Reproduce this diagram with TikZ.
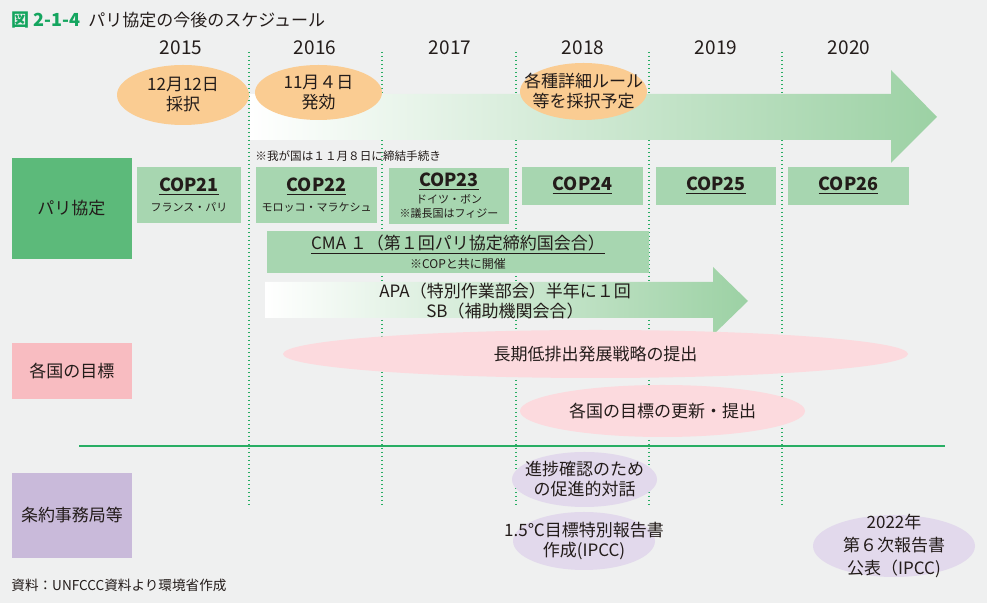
\documentclass[tikz,border=0pt]{standalone}
\usepackage{fontspec}
\setmainfont{Noto Sans CJK JP}
\usetikzlibrary{positioning,shapes.geometric}

\definecolor{bg}{RGB}{239,240,240}
\definecolor{ink}{RGB}{35,28,26}
\definecolor{figgreen}{RGB}{20,165,95}
\definecolor{rowgreen}{RGB}{92,186,122}
\definecolor{copgreen}{RGB}{167,214,176}
\definecolor{arrowgreen}{RGB}{156,209,164}
\definecolor{datebg}{RGB}{250,204,146}
\definecolor{rowpink}{RGB}{248,188,193}
\definecolor{pinkbg}{RGB}{252,218,222}
\definecolor{rowlilac}{RGB}{201,186,218}
\definecolor{lilacbg}{RGB}{226,217,236}
\definecolor{rulegreen}{RGB}{40,174,100}

\newcommand\copt[1]{{\fontsize{9}{11}\selectfont\bfseries\underline{#1}}}

\begin{document}
\begin{tikzpicture}[
	x = 0.5pt, y = -0.5pt, % one unit = one pixel of the figure, y downwards
	every node/.style = {text=ink, inner sep=0pt},
	F/.style = {font=\fontsize{8.5}{10}\selectfont, align=center},   % body text
	S/.style = {font=\fontsize{5.8}{7}\selectfont},                 % small notes
	Y/.style = {font=\fontsize{9.5}{11}\selectfont},                % years
	L/.style = {rectangle, minimum width=60pt, F},                  % row labels
	C/.style = {rectangle, fill=copgreen, minimum height=19pt, align=center,
		font=\fontsize{5.5}{7}\selectfont},                         % COP boxes
	E/.style = {ellipse, inner sep=0pt},                            % bare ellipses
	yearline/.style = {rulegreen, line width=0.6pt, dash pattern=on 0.6pt off 1.4pt},
	]

	% Canvas
	\fill[bg] (0,0) rectangle (987,603);
	\useasboundingbox (0,0) rectangle (987,603);

	% Heading
	\node[anchor=west, font=\fontsize{9}{11}\selectfont\bfseries, text=figgreen] (fig) at (11,20) {図 2-1-4};
	\node[anchor=west, font=\fontsize{8.5}{11}\selectfont] (title) at (88,20) {パリ協定の今後のスケジュール};

	% Years and the dotted borders between them
	\node[Y] (y15) at (181,48) {2015};
	\node[Y] (y16) at (315,48) {2016};
	\node[Y] (y17) at (450,48) {2017};
	\node[Y] (y18) at (583,48) {2018};
	\node[Y] (y19) at (716,48) {2019};
	\node[Y] (y20) at (849,48) {2020};
	\draw[yearline] (249,52) -- (249,505);
	\draw[yearline] (382,52) -- (382,505);
	\draw[yearline] (516,52) -- (516,505);
	\draw[yearline] (649,52) -- (649,505);
	\draw[yearline] (782,52) -- (782,505);

	% Long arrow of the agreement
	\path[left color=white, right color=arrowgreen]
		(250,94) -- (891,94) -- (891,70) -- (937,117) -- (891,163) -- (891,140) -- (250,140) -- cycle;

	% Dates
	\node[E, fill=datebg, minimum width=66pt, minimum height=30pt] (adopt) at (183,95) {};
	\node[F] (adoptT) at (adopt) {12月12日\\採択};
	\node[E, fill=datebg, minimum width=63.5pt, minimum height=27.5pt] (effect) at (318.5,92.5) {};
	\node[F] (effectT) at (effect) {11月４日\\発効};
	\node[E, fill=datebg, minimum width=63.5pt, minimum height=28.5pt] (rules) at (583.5,91.5) {};
	\node[F] (rulesT) at (rules) {各種詳細ルール\\等を採択予定};

	% Paris Agreement row
	\node[L, fill=rowgreen, minimum height=50.5pt] (pari) at (71.5,208.5) {パリ協定};
	\node[S, anchor=west] (note) at (255,156) {※我が国は１１月８日に締結手続き};
	\node[C, minimum width=52pt, minimum height=28pt] (cop21) at (189,195) {\copt{COP21}\\[3pt]フランス・パリ};
	\node[C, minimum width=60.5pt, minimum height=28pt] (cop22) at (316.5,195) {\copt{COP22}\\[3pt]モロッコ・マラケシュ};
	\node[C, minimum width=60pt, minimum height=28pt] (cop23) at (449,196) {\copt{COP23}\\[1.5pt]ドイツ・ボン\\※議長国はフィジー};
	\node[C, minimum width=60.5pt] (cop24) at (582.5,186) {\copt{COP24}};
	\node[C, minimum width=60pt] (cop25) at (716,186) {\copt{COP25}};
	\node[C, minimum width=60.5pt] (cop26) at (848.5,186) {\copt{COP26}};
	\node[C, minimum width=191pt, minimum height=21pt] (cma) at (458,252)
		{{\fontsize{8.5}{10}\selectfont\underline{CMA １（第１回パリ協定締約国会合）}}\\[0.5pt]{\fontsize{6}{7}\selectfont ※COPと共に開催}};
	\path[left color=white, right color=arrowgreen]
		(265,282) -- (713,282) -- (713,267) -- (748,301) -- (713,335) -- (713,318) -- (265,318) -- cycle;
	\node[F] (apa) at (505,301) {APA（特別作業部会）半年に１回\\SB（補助機関会合）};

	% National targets row
	\node[L, fill=rowpink, minimum height=28pt] (goal) at (72,371) {各国の目標};
	\node[E, fill=pinkbg, minimum width=312.5pt, minimum height=24pt] (lts) at (595.5,354) {};
	\node[F] (ltsT) at (lts) {長期低排出発展戦略の提出};
	\node[E, fill=pinkbg, minimum width=142.5pt, minimum height=26pt] (ndc) at (662.5,411) {};
	\node[F] (ndcT) at (ndc) {各国の目標の更新・提出};

	% Separator
	\draw[rulegreen, line width=1pt] (79,446) -- (945,446);

	% Secretariat row
	\node[L, fill=rowlilac, minimum height=42.5pt] (sec) at (72,515.5) {条約事務局等};
	\node[E, fill=lilacbg, minimum width=72.5pt, minimum height=27.5pt] (dial) at (584.5,479.5) {};
	\node[F] (dialT) at (dial) {進捗確認のため\\の促進的対話};
	\node[E, fill=lilacbg, minimum width=71pt, minimum height=29pt] (sr) at (584,541) {};
	\node[F] (srT) at (sr) {1.5℃目標特別報告書\\作成(IPCC)};
	\node[E, fill=lilacbg, minimum width=81pt, minimum height=31pt] (ar) at (894,546) {};
	\node[F, font=\fontsize{8.5}{11.5}\selectfont] (arT) at (ar) {2022年\\第６次報告書\\公表（IPCC)};

	% Source
	\node[anchor=west, font=\fontsize{6.8}{8}\selectfont] (src) at (11,585) {資料：UNFCCC資料より環境省作成};

\end{tikzpicture}
\end{document}
